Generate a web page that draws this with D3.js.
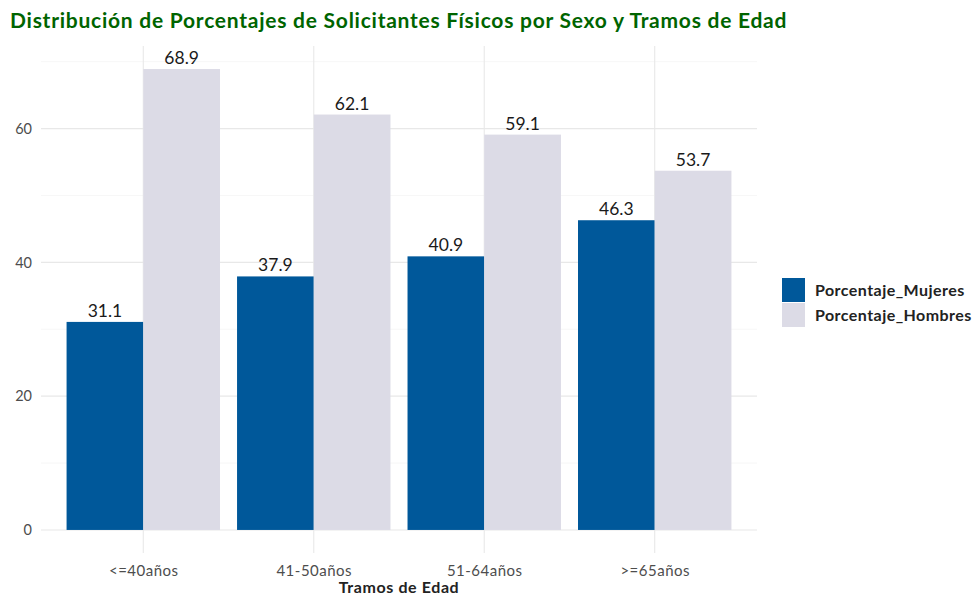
<!DOCTYPE html>
<html>
<head>
<meta charset="utf-8">
<script src="https://cdn.jsdelivr.net/npm/d3@7"></script>
<style>
	body { margin: 0; background: #fff; }
	svg { font-family: Lato, "Open Sans", sans-serif; }
</style>
</head>
<body>
<div id="viz"></div>
<script>
// data
const tramos = ["<=40años", "41-50años", "51-64años", ">=65años"];
const series = ["Porcentaje_Mujeres", "Porcentaje_Hombres"];
const mujeres = [31.1, 37.9, 40.9, 46.3];
const hombres = [68.9, 62.1, 59.1, 53.7];
const yTicks = [0, 20, 40, 60];
const yMinor = [10, 30, 50, 70];
const colors = ["#00589a", "#dcdbe6"];

const width = 974, height = 596;
const margin = { top: 46, right: 217, bottom: 43, left: 41 };
const innerW = width - margin.left - margin.right,
	innerH = height - margin.top - margin.bottom;

const data = tramos.map((t, i) => ({ tramo: t, values: [mujeres[i], hombres[i]] }));

const svg = d3.select("#viz")
	.append("svg")
	.attr("width", width)
	.attr("height", height);

svg.append("text")
	.attr("x", 10)
	.attr("y", 28)
	.attr("font-size", 21)
	.attr("font-weight", "bold")
	.attr("letter-spacing", 0.75)
	.attr("fill", "#006400")
	.text("Distribución de Porcentajes de Solicitantes Físicos por Sexo y Tramos de Edad");

const g = svg.append("g")
	.attr("transform", `translate(${margin.left},${margin.top})`);

// ggplot style discrete scale: 0.6 expansion each side
const step = innerW / (tramos.length - 1 + 1.2);
const x = d3.scalePoint().domain(tramos).range([0.6 * step, innerW - 0.6 * step]);
const groupW = 0.9 * step;
const x1 = d3.scaleBand().domain(series).range([-groupW / 2, groupW / 2]);

const ymax = d3.max(hombres.concat(mujeres));
const pad = ymax * 0.05;
const y = d3.scaleLinear().domain([-pad, ymax + pad]).range([innerH, 0]);

// grid
g.append("g").selectAll("line")
	.data(yMinor)
	.join("line")
	.attr("x1", 0).attr("x2", innerW)
	.attr("y1", (d) => y(d)).attr("y2", (d) => y(d))
	.attr("stroke", "#f0f0f0").attr("stroke-width", 0.6);

g.append("g").selectAll("line")
	.data(yTicks)
	.join("line")
	.attr("x1", 0).attr("x2", innerW)
	.attr("y1", (d) => y(d)).attr("y2", (d) => y(d))
	.attr("stroke", "#e8e8e8").attr("stroke-width", 1.1);

g.append("g").selectAll("line")
	.data(tramos)
	.join("line")
	.attr("x1", (d) => x(d)).attr("x2", (d) => x(d))
	.attr("y1", 0).attr("y2", innerH)
	.attr("stroke", "#e8e8e8").attr("stroke-width", 1.1);

// bars
const groups = g.append("g").selectAll("g")
	.data(data)
	.join("g")
	.attr("transform", (d) => `translate(${x(d.tramo)},0)`);

groups.selectAll("rect")
	.data((d) => d.values.map((v, i) => ({ key: series[i], value: v, i })))
	.join("rect")
	.attr("x", (d) => x1(d.key))
	.attr("width", x1.bandwidth())
	.attr("y", (d) => y(d.value))
	.attr("height", (d) => y(0) - y(d.value))
	.attr("fill", (d) => colors[d.i]);

groups.selectAll("text")
	.data((d) => d.values.map((v, i) => ({ key: series[i], value: v })))
	.join("text")
	.attr("x", (d) => x1(d.key) + x1.bandwidth() / 2)
	.attr("y", (d) => y(d.value) - 5)
	.attr("text-anchor", "middle")
	.attr("font-size", 17.5)
	.attr("fill", "#1a1a1a")
	.text((d) => d.value.toFixed(1));

// axes (no lines, just labels)
const yAxis = g.append("g")
	.call(d3.axisLeft(y).tickValues(yTicks).tickSize(0).tickPadding(9));
yAxis.select(".domain").remove();
yAxis.selectAll("text")
	.attr("font-family", "Lato, sans-serif")
	.attr("font-size", 14.5)
	.attr("fill", "#4d4d4d");

const xAxis = g.append("g")
	.attr("transform", `translate(0,${innerH})`)
	.call(d3.axisBottom(x).tickSize(0).tickPadding(12));
xAxis.select(".domain").remove();
xAxis.selectAll("text")
	.attr("font-family", "Lato, sans-serif")
	.attr("font-size", 15)
	.attr("letter-spacing", 0.5)
	.attr("fill", "#4d4d4d");

g.append("text")
	.attr("x", innerW / 2)
	.attr("y", innerH + 40)
	.attr("text-anchor", "middle")
	.attr("font-size", 16)
	.attr("font-weight", "bold")
	.attr("letter-spacing", 0.6)
	.attr("fill", "#222")
	.text("Tramos de Edad");

// legend
const legend = svg.append("g")
	.attr("transform", "translate(782,278)");

const items = legend.selectAll("g")
	.data(series)
	.join("g")
	.attr("transform", (d, i) => `translate(0,${i * 25})`);

items.append("rect")
	.attr("width", 23)
	.attr("height", 24)
	.attr("fill", (d, i) => colors[i]);

items.append("text")
	.attr("x", 33)
	.attr("y", 18)
	.attr("font-size", 16)
	.attr("font-weight", "bold")
	.attr("letter-spacing", 0.45)
	.attr("fill", "#222")
	.text((d) => d);
</script>
</body>
</html>
